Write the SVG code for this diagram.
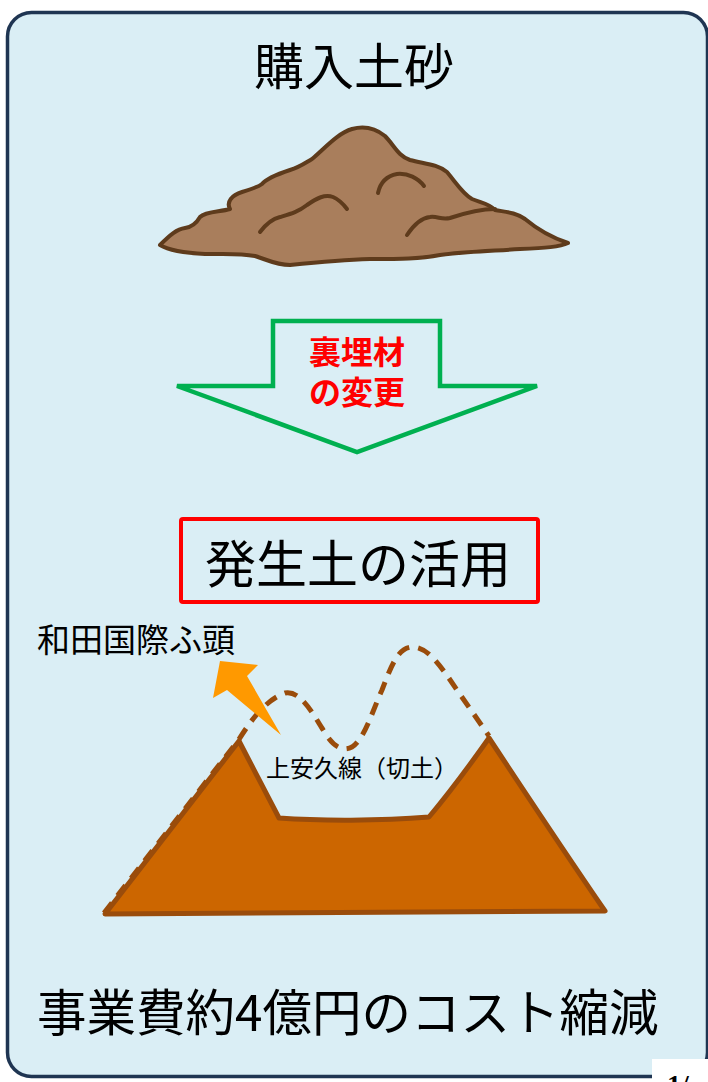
<svg xmlns="http://www.w3.org/2000/svg" width="708" height="1082" viewBox="0 0 708 1082">
  <style>
    .jp { font-family: "Noto Sans CJK JP", "Noto Sans", sans-serif; fill: #000; }
    .soil { fill: #a97e5c; stroke: #5e3b1c; stroke-width: 4; stroke-linejoin: round; stroke-linecap: round; }
    .soil-line { fill: none; stroke: #5e3b1c; stroke-width: 4; stroke-linecap: round; stroke-linejoin: round; }
    .cut { fill: #cc6600; stroke: #9a4c0b; stroke-width: 5; stroke-linejoin: round; }
    .orig { fill: none; stroke: #9a4c0b; stroke-width: 5; stroke-dasharray: 13 9; }
    .red { font-family: "Noto Sans CJK JP", sans-serif; font-size: 32px; font-weight: bold; fill: #ff0000; }
  </style>

  <!-- panel -->
  <rect id="panel" x="7.5" y="12.5" width="700" height="1064" rx="24" ry="24" fill="#daeef5" stroke="#1f3552" stroke-width="3.5"/>

  <!-- heading -->
  <g id="title">
    <text class="jp" x="354" y="85" font-size="50" text-anchor="middle">購入土砂</text>
  </g>

  <!-- pile of purchased soil -->
  <g id="soil-pile">
    <path class="soil" d="M160,245 C170,235 177,229 185,228 C192,227 196,224 200,217 C206,211 220,212 230,209 C226,202 232,195 242,192 C252,189 258,187 262,184 C266,179 275,175 290,170 C300,167 305,163 312,159 C325,148 338,133 352,129 C363,126 375,128 385,136 C394,145 398,156 410,160 C425,164 437,164 447,172 C457,184 463,194 472,199 C482,203 490,204 495,210 C505,212 515,212 525,219 C537,229 550,237 568,243 C560,247 545,248 520,249 C490,251 460,252 440,255 C420,259 400,259 370,259 C340,260 310,263 290,265 C276,265 268,260 255,256 C240,253 225,254 205,254 C185,253 170,251 160,245 Z"/>
    <path class="soil-line" d="M260,232 C266,224 272,219 280,217 C290,214 298,212 307,205 C317,198 325,194 333,197 C340,200 344,205 347,209"/>
    <path class="soil-line" d="M378,193 C380,184 386,176 397,174 C408,173 418,178 424,186"/>
    <path class="soil-line" d="M407,235 C413,226 420,218 430,217 C438,216 441,220 450,218 C462,214 478,209 495,209"/>
  </g>

  <!-- green down arrow -->
  <g id="change-arrow">
    <polygon points="273,321 440,321 440,386 537,386 357,452 177,386 273,386" fill="none" stroke="#00b050" stroke-width="4.5" stroke-linejoin="miter"/>
    <text class="red" x="357" y="364" text-anchor="middle">裏埋材</text>
    <text class="red" x="357" y="404" text-anchor="middle">の変更</text>
  </g>

  <!-- red box -->
  <g id="reuse-box">
    <rect x="181" y="519" width="357" height="83" fill="none" stroke="#ff0000" stroke-width="4" rx="2"/>
    <text class="jp" x="358" y="583" font-size="51" text-anchor="middle">発生土の活用</text>
  </g>

  <!-- destination label -->
  <g id="wharf-label">
    <text class="jp" x="37" y="652" font-size="33">和田国際ふ頭</text>
  </g>

  <!-- cut earth section: dashed = original ground line -->
  <g id="cut-section">
    <path class="orig" d="M104,913 L238.5,740 C250,722 265,700 285,693 C300,690 312,712 325,733 C333,746 342,752 352,747 C365,738 372,712 382,690 C392,664 398,648 412,647 C428,647 440,665 457,690 L489,736"/>
    <path class="cut" d="M105,914 L239,741 L279,818 C320,821 380,821 429,817 C445,798 465,772 489,738 C530,800 570,860 605,911 Z"/>
    <text class="jp" x="362" y="777" font-size="24" text-anchor="middle">上安久線（切土）</text>
  </g>

  <!-- orange arrow towards the wharf -->
  <g id="haul-arrow">
    <polygon points="220,661 258,665 247,676 281,735 227,690 213,698" fill="#ff9900"/>
  </g>

  <!-- result -->
  <g id="result">
    <text class="jp" x="37" y="1031" font-size="49.5">事業費約4億円のコスト縮減</text>
  </g>

  <!-- page number tab -->
  <g id="page-tab">
    <rect x="652" y="1059" width="60" height="30" fill="#ffffff"/>
    <text x="667" y="1094" font-size="28" font-weight="bold" fill="#000" font-family="'Liberation Serif', serif">1/</text>
  </g>
</svg>
